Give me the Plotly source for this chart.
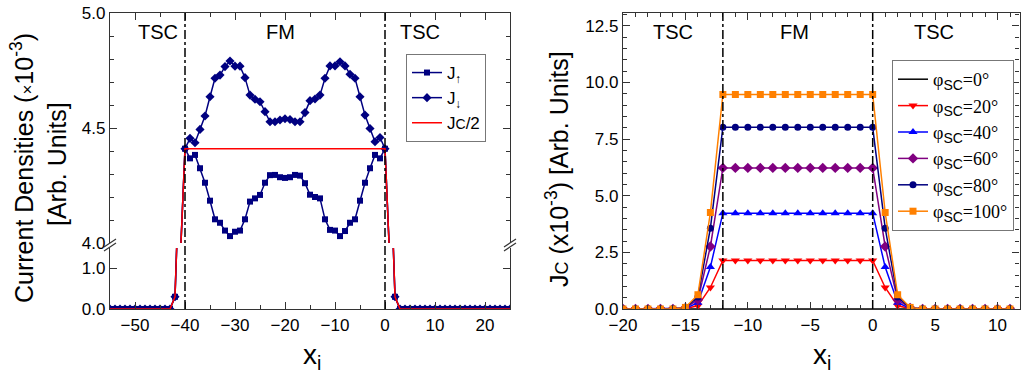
import plotly.graph_objects as go

# ---------------- Left panel data ----------------
x_left = list(range(-55, 26))
j_down = [0, 0, 0, 0, 0, 0, 0, 0, 0, 0, 0, 0, 0,
          0.3, 3.9,
          4.41, 4.455, 4.436, 4.494, 4.552, 4.636, 4.716, 4.73, 4.767, 4.791,
          4.769, 4.769, 4.719, 4.643, 4.625, 4.614, 4.571, 4.527, 4.527, 4.535,
          4.540, 4.537, 4.527, 4.527, 4.567, 4.619, 4.626, 4.643, 4.716, 4.770,
          4.770, 4.788, 4.770, 4.734, 4.716, 4.636, 4.556, 4.498, 4.440, 4.459,
          4.41,
          3.9, 0.3,
          0, 0, 0, 0, 0, 0, 0, 0, 0, 0, 0, 0, 0, 0, 0, 0, 0, 0, 0, 0, 0, 0, 0]
j_up = [0, 0, 0, 0, 0, 0, 0, 0, 0, 0, 0, 0, 0,
        0.3, 3.9,
        4.41, 4.368, 4.383, 4.325, 4.262, 4.184, 4.103, 4.088, 4.054, 4.030,
        4.049, 4.054, 4.103, 4.180, 4.194, 4.209, 4.262, 4.295, 4.296, 4.286,
        4.283, 4.286, 4.296, 4.293, 4.260, 4.210, 4.200, 4.194, 4.103, 4.057,
        4.054, 4.030, 4.052, 4.088, 4.103, 4.184, 4.262, 4.325, 4.383, 4.368,
        4.41,
        3.9, 0.3,
        0, 0, 0, 0, 0, 0, 0, 0, 0, 0, 0, 0, 0, 0, 0, 0, 0, 0, 0, 0, 0, 0, 0]
jc_half = [0, 0, 0, 0, 0, 0, 0, 0, 0, 0, 0, 0, 0,
           0.3, 3.9,
           4.41, 4.41, 4.41, 4.41, 4.41, 4.41, 4.41, 4.41, 4.41, 4.41,
           4.41, 4.41, 4.41, 4.41, 4.41, 4.41, 4.41, 4.41, 4.41, 4.41,
           4.41, 4.41, 4.41, 4.41, 4.41, 4.41, 4.41, 4.41, 4.41, 4.41,
           4.41, 4.41, 4.41, 4.41, 4.41, 4.41, 4.41, 4.41, 4.41, 4.41,
           4.41,
           3.9, 0.3,
           0, 0, 0, 0, 0, 0, 0, 0, 0, 0, 0, 0, 0, 0, 0, 0, 0, 0, 0, 0, 0, 0, 0]
left_interfaces = [-40, 0]

# ---------------- Right panel data ----------------
x_right = list(range(-20, 12))
phi_0 = [0] * 32
phi_20 = [0, 0, 0, 0, 0, 0.02, 0.14, 0.95,
          2.14, 2.14, 2.14, 2.14, 2.14, 2.14, 2.14, 2.14, 2.14, 2.14, 2.14, 2.14, 2.14,
          0.95, 0.14, 0.02, 0, 0, 0, 0, 0, 0, 0, 0]
phi_40 = [0, 0, 0, 0, 0, 0.03, 0.28, 1.85,
          4.23, 4.23, 4.23, 4.23, 4.23, 4.23, 4.23, 4.23, 4.23, 4.23, 4.23, 4.23, 4.23,
          1.85, 0.28, 0.03, 0, 0, 0, 0, 0, 0, 0, 0]
phi_60 = [0, 0, 0, 0, 0, 0.05, 0.41, 2.76,
          6.23, 6.23, 6.23, 6.23, 6.23, 6.23, 6.23, 6.23, 6.23, 6.23, 6.23, 6.23, 6.23,
          2.76, 0.41, 0.05, 0, 0, 0, 0, 0, 0, 0, 0]
phi_80 = [0, 0, 0, 0, 0, 0.06, 0.53, 3.57,
          8.02, 8.02, 8.02, 8.02, 8.02, 8.02, 8.02, 8.02, 8.02, 8.02, 8.02, 8.02, 8.02,
          3.57, 0.53, 0.06, 0, 0, 0, 0, 0, 0, 0, 0]
phi_100 = [0, 0, 0, 0, 0, 0.07, 0.63, 4.26,
           9.47, 9.47, 9.47, 9.47, 9.47, 9.47, 9.47, 9.47, 9.47, 9.47, 9.47, 9.47, 9.47,
           4.26, 0.63, 0.07, 0, 0, 0, 0, 0, 0, 0, 0]
right_interfaces = [-12, 0]

phi_labels = ["0°", "20°", "40°", "60°", "80°", "100°"]
phi_series = [phi_0, phi_20, phi_40, phi_60, phi_80, phi_100]
phi_colors = ["#000000", "#FF0000", "#0000FF", "#800080", "#000080", "#FF8000"]
phi_symbols = [None, "triangle-down", "triangle-up", "diamond", "circle", "square"]
phi_sizes = [0, 8, 8, 8, 7, 7]

NAVY = "#000080"
SANS = "Liberation Sans, Arial, sans-serif"
SERIF = "Liberation Serif, Times New Roman, serif"
W, H = 1021, 374


def px_x(p):
    return p / W


def px_y(p):
    return 1 - p / H


fig = go.Figure()

# Left panel: J traces in both segments of the broken axis
for xa, ya, show in (("x", "y", False), ("x2", "y2", True)):
    fig.add_trace(go.Scatter(
        x=x_left, y=j_up, xaxis=xa, yaxis=ya, mode="lines+markers",
        name="J<sub>↑</sub>", showlegend=show, legend="legend",
        line=dict(color=NAVY, width=1.5),
        marker=dict(symbol="square", size=6, color=NAVY)))
    fig.add_trace(go.Scatter(
        x=x_left, y=j_down, xaxis=xa, yaxis=ya, mode="lines+markers",
        name="J<sub>↓</sub>", showlegend=show, legend="legend",
        line=dict(color=NAVY, width=1.5),
        marker=dict(symbol="diamond", size=7, color=NAVY)))
    fig.add_trace(go.Scatter(
        x=x_left, y=jc_half, xaxis=xa, yaxis=ya, mode="lines",
        name="J<span style='font-size:14px'>C</span>/2", showlegend=show, legend="legend",
        line=dict(color="#FF0000", width=1.5)))

# Right panel
for lab, ys, col, sym, sz in zip(phi_labels, phi_series, phi_colors, phi_symbols, phi_sizes):
    name = ("φ<sub><span style='font-family:Liberation Sans;font-size:14px'>SC</span></sub>=" + lab)
    if sym is None:
        fig.add_trace(go.Scatter(x=x_right, y=ys, xaxis="x3", yaxis="y3", mode="lines",
                                 name=name, legend="legend2",
                                 line=dict(color=col, width=1.5)))
    else:
        fig.add_trace(go.Scatter(x=x_right, y=ys, xaxis="x3", yaxis="y3", mode="lines+markers",
                                 name=name, legend="legend2",
                                 line=dict(color=col, width=1.5),
                                 marker=dict(symbol=sym, size=sz, color=col)))

AX = dict(showline=True, linecolor="#333333", linewidth=1.3, ticks="inside",
          tickcolor="#333333", ticklen=7, tickwidth=1.2, showgrid=False, zeroline=False,
          automargin=False,
          tickfont=dict(family=SANS, size=17, color="#000000"))

MINOR = dict(ticks="inside", ticklen=4, tickcolor="#333333")

yb = 309
yt = 13
fig.update_layout(
    width=W, height=H, margin=dict(l=0, r=0, t=0, b=0, pad=0, autoexpand=False),
    paper_bgcolor="white", plot_bgcolor="white", hovermode=False,
    xaxis=dict(**AX, domain=[px_x(110), px_x(510)], range=[-55, 25], anchor="y",
               dtick=10, tick0=0, minor=dict(dtick=5, tick0=0, **MINOR)),
    xaxis2=dict(**AX, domain=[px_x(110), px_x(510)], range=[-55, 25], anchor="y2",
                side="top", matches="x", showticklabels=False, dtick=10, tick0=0,
                minor=dict(dtick=5, tick0=0, **MINOR)),
    yaxis=dict(**AX, domain=[px_y(yb), px_y(248)], range=[0, 1.5], anchor="x",
               tickvals=[0, 1.0], tickformat=".1f", mirror="ticks"),
    yaxis2=dict(**AX, domain=[px_y(243), px_y(yt)], range=[4.0, 5.0], anchor="x2",
                tickvals=[4.0, 4.5, 5.0], tickformat=".1f", mirror="ticks",
                minor=dict(dtick=0.1, tick0=0, **MINOR)),
    xaxis3=dict(**AX, domain=[px_x(623), px_x(1019.5)], range=[-20, 11.76], anchor="y3",
                dtick=5, tick0=0, mirror="ticks", minor=dict(dtick=1, tick0=0, **MINOR)),
    yaxis3=dict(**AX, domain=[px_y(yb), px_y(yt)], range=[0, 13.07], anchor="x3",
                dtick=2.5, tick0=0, tickformat=".1f", mirror="ticks",
                minor=dict(dtick=0.5, tick0=0, **MINOR)),
    legend=dict(x=px_x(406), y=px_y(54), xanchor="left", yanchor="top",
                bgcolor="white", bordercolor="#777777", borderwidth=1,
                font=dict(family=SANS, size=17, color="#000000"), tracegroupgap=0),
    legend2=dict(x=px_x(892), y=px_y(60), xanchor="left", yanchor="top",
                 bgcolor="white", bordercolor="#777777", borderwidth=1,
                 font=dict(family=SERIF, size=18, color="#000000"), tracegroupgap=0),
)

# Interface lines (dash-dot)
for xv in left_interfaces:
    fig.add_shape(type="line", xref="x", yref="paper", x0=xv, x1=xv,
                  y0=px_y(yb), y1=px_y(yt), line=dict(color="#000000", width=1.5, dash="dashdot"))
for xv in right_interfaces:
    fig.add_shape(type="line", xref="x3", yref="paper", x0=xv, x1=xv,
                  y0=px_y(yb), y1=px_y(yt), line=dict(color="#000000", width=1.5, dash="dashdot"))

# Axis break marks
for xc in (110, 510):
    for off in (-2, 2):
        fig.add_shape(type="line", xref="paper", yref="paper",
                      x0=px_x(xc - 6), y0=px_y(249 + off), x1=px_x(xc + 6), y1=px_y(241 + off),
                      line=dict(color="#333333", width=1.2))

# Region labels
regions = [("x", -45.4, "TSC"), ("x", -21, "FM"), ("x", 7, "TSC"),
           ("x3", -16, "TSC"), ("x3", -6.3, "FM"), ("x3", 4.9, "TSC")]
for xr, xv, t in regions:
    fig.add_annotation(x=xv, xref=xr, y=px_y(32), yref="paper", text=t, showarrow=False,
                       xanchor="center", yanchor="middle",
                       font=dict(family=SANS, size=20, color="#000000"))

# Axis titles
fig.add_annotation(x=px_x(22), y=px_y(168), xref="paper", yref="paper", textangle=-90,
                   xanchor="center", yanchor="middle",
                   text="Current Densities (<span style='font-size:17px'>×</span>10<sup>-3</sup>)",
                   showarrow=False, font=dict(family=SANS, size=25, color="#000000"))
fig.add_annotation(x=px_x(57), y=px_y(164), xref="paper", yref="paper", textangle=-90,
                   xanchor="center", yanchor="middle",
                   text="[Arb. Units]", showarrow=False,
                   font=dict(family=SANS, size=25, color="#000000"))
fig.add_annotation(x=px_x(557), y=px_y(169), xref="paper", yref="paper", textangle=-90,
                   xanchor="center", yanchor="middle",
                   text="J<span style='font-size:18px'>C</span> (x10<sup>-3</sup>) [Arb. Units]",
                   showarrow=False, font=dict(family=SANS, size=25, color="#000000"))
for xc in (312, 822):
    fig.add_annotation(x=px_x(xc), y=px_y(356), xref="paper", yref="paper",
                       xanchor="center", yanchor="middle",
                       text="x<sub>i</sub>", showarrow=False,
                       font=dict(family=SANS, size=28, color="#000000"))

fig.write_html("out.html")
